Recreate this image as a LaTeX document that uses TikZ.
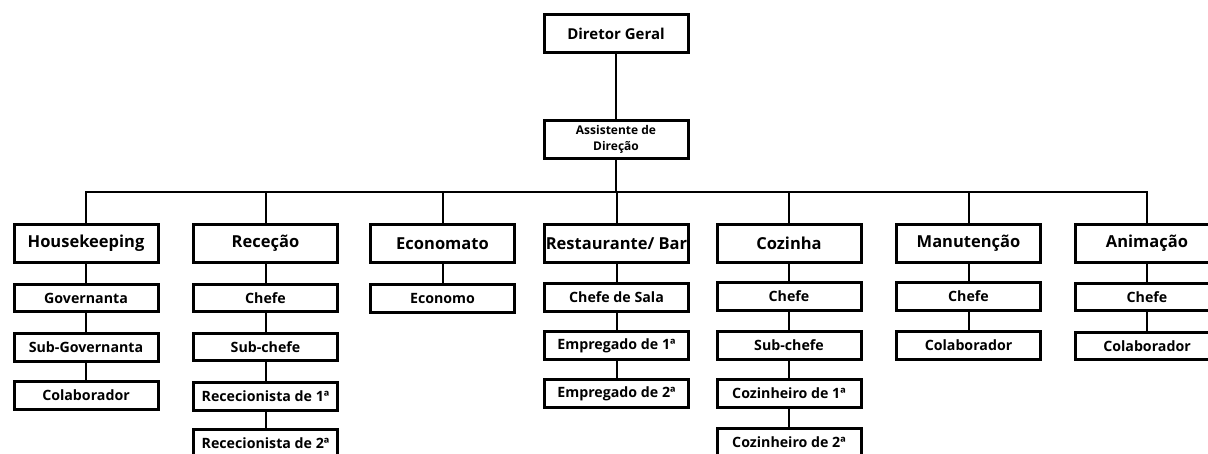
\documentclass[tikz,border=0pt]{standalone}
\usepackage{fontspec}
\setmainfont{Open Sans}[UprightFont=* Bold]
\begin{document}
\begin{tikzpicture}[x=1pt,y=-1pt,
  box/.style={draw=black,line width=3pt,fill=white,inner sep=0pt,align=center},
  top/.style={box,minimum width=144pt,minimum height=38pt,font=\fontsize{15}{17}\selectfont},
  dept/.style={box,minimum width=144pt,minimum height=38pt,font=\fontsize{16.5}{19}\selectfont},
  sub/.style={box,minimum width=144pt,minimum height=27.5pt,font=\fontsize{14.2}{16}\selectfont},
  link/.style={draw=black,line width=2pt}]
\useasboundingbox (0,0) rectangle (1208,454);
\clip (0,0) rectangle (1208,454);
\fill[white] (0,0) rectangle (1208,454);
% top
\node[top] (dg) at (616,33.5) {Diretor Geral};
\node[top,font=\fontsize{12}{15.5}\selectfont] (ad) at (616,139.5) {Assistente de\\Direção};
% departments
\node[dept] (hk) at (86,243.5) {Housekeeping};
\node[dept] (rc) at (265.5,243.5) {Receção};
\node[dept] (ec) at (442.5,243.5) {Economato};
\node[dept] (rb) at (616.5,243.5) {Restaurante/ Bar};
\node[dept] (cz) at (789,243.5) {Cozinha};
\node[dept] (mn) at (968.5,243.5) {Manutenção};
\node[dept] (an) at (1147,243.5) {Animação};
% housekeeping
\node[sub] (hk1) at (86,298) {Governanta};
\node[sub] (hk2) at (86,347.5) {Sub-Governanta};
\node[sub] (hk3) at (86,395.5) {Colaborador};
% rececao
\node[sub] (rc1) at (265.5,298) {Chefe};
\node[sub] (rc2) at (265.5,347) {Sub-chefe};
\node[sub] (rc3) at (265.5,396.5) {Rececionista de 1ª};
\node[sub] (rc4) at (265.5,443) {Rececionista de 2ª};
% economato
\node[sub] (ec1) at (442.5,298.5) {Economo};
% restaurante
\node[sub] (rb1) at (616.5,297.5) {Chefe de Sala};
\node[sub] (rb2) at (616.5,345.5) {Empregado de 1ª};
\node[sub] (rb3) at (616.5,393.5) {Empregado de 2ª};
% cozinha
\node[sub] (cz1) at (789,296.5) {Chefe};
\node[sub] (cz2) at (789,345.5) {Sub-chefe};
\node[sub] (cz3) at (789,393.5) {Cozinheiro de 1ª};
\node[sub] (cz4) at (789,442) {Cozinheiro de 2ª};
% manutencao
\node[sub] (mn1) at (968.5,296.5) {Chefe};
\node[sub] (mn2) at (968.5,345.5) {Colaborador};
% animacao
\node[sub] (an1) at (1147,297) {Chefe};
\node[sub] (an2) at (1147,346) {Colaborador};
% connectors
\coordinate (bus) at (616,192);
\draw[link] (dg.south) -- (ad.north);
\draw[link] (ad.south) -- (bus);
\draw[link] (hk.north) |- (bus) -| (an.north);
\foreach \d in {rc,ec,rb,cz,mn} \draw[link] (\d.north) -- (\d.north |- bus);
\draw[link] (hk.south) -- (hk1.north) (hk1.south) -- (hk2.north) (hk2.south) -- (hk3.north);
\draw[link] (rc.south) -- (rc1.north) (rc1.south) -- (rc2.north) (rc2.south) -- (rc3.north) (rc3.south) -- (rc4.north);
\draw[link] (ec.south) -- (ec1.north);
\draw[link] (rb.south) -- (rb1.north) (rb1.south) -- (rb2.north) (rb2.south) -- (rb3.north);
\draw[link] (cz.south) -- (cz1.north) (cz1.south) -- (cz2.north) (cz2.south) -- (cz3.north) (cz3.south) -- (cz4.north);
\draw[link] (mn.south) -- (mn1.north) (mn1.south) -- (mn2.north);
\draw[link] (an.south) -- (an1.north) (an1.south) -- (an2.north);
\end{tikzpicture}
\end{document}
